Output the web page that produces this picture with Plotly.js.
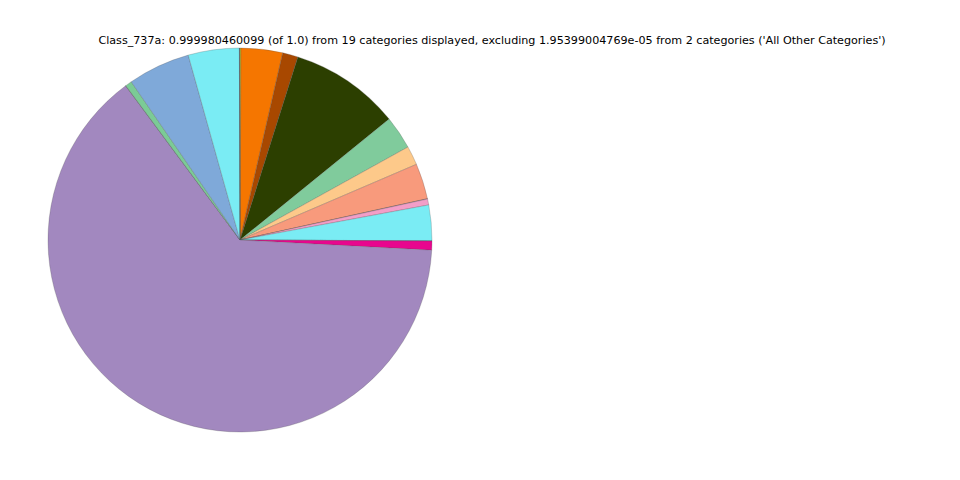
<!DOCTYPE html>
<html>
<head>
<meta charset="utf-8">
<script src="https://cdn.plot.ly/plotly-3.0.1.min.js"></script>
<style>html,body{margin:0;padding:0;background:#fff;}#chart{width:960px;height:480px;}</style>
</head>
<body>
<div id="chart"></div>
<script>
const categories = ["Cat_01","Cat_02","Cat_03","Cat_04","Cat_05","Cat_06","Cat_07","Cat_08","Cat_09","Cat_10","Cat_11","Cat_12","Cat_13","Cat_14","Cat_15","Cat_16","Cat_17","Cat_18","Cat_19"];
const values = [0.0008,0.035,0.013,0.093,0.028,0.016,0.030,0.0003,0.005,0.030,0.0002,0.0075,0.641,0.0002,0.0055,0.0525,0.043,0.0002,0.0003];
const colors = ["#f2e600","#f57600","#a84800","#2c3f00","#80cb9c","#fdc98a","#f89a7c","#7a5a8a","#f39ec8","#7aecf4","#3a8a9a","#e8068e","#a288bf","#5a7a5a","#7bcb96","#7fa9d9","#7aecf4","#4a6a8a","#6a6a6a"];
const titleText = "Class_737a: 0.999980460099 (of 1.0) from 19 categories displayed, excluding 1.95399004769e-05 from 2 categories ('All Other Categories')";

Plotly.newPlot('chart', [{
  type: 'pie',
  labels: categories,
  values: values,
  sort: false,
  direction: 'clockwise',
  rotation: 0,
  textinfo: 'none',
  hoverinfo: 'label+value',
  marker: {colors: colors, line: {color: 'rgba(80,80,80,0.5)', width: 0.5}},
  domain: {x: [0.05, 0.45], y: [0.1, 0.9]},
  showlegend: false
}], {
  width: 960, height: 480,
  margin: {l: 0, r: 0, t: 0, b: 0},
  paper_bgcolor: '#fff',
  showlegend: false,
  title: {text: titleText, x: 0.5125, xanchor: 'center', y: 0.917, yanchor: 'middle',
          font: {family: 'DejaVu Sans', size: 11.15, color: '#000'}}
}, {displayModeBar: false, staticPlot: true});
</script>
</body>
</html>
